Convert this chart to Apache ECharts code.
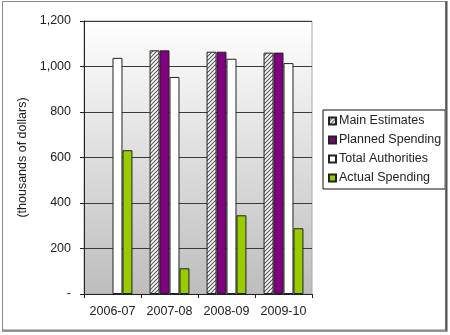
<!DOCTYPE html>
<html>
<head>
<meta charset="utf-8">
<script src="https://cdn.jsdelivr.net/npm/echarts@6/dist/echarts.min.js"></script>
<style>
html,body{margin:0;padding:0;background:#fff;}
#chart{width:450px;height:335px;}
</style>
</head>
<body>
<div id="chart"></div>
<script>
var categories = ['2006-07', '2007-08', '2008-09', '2009-10'];
var mainEstimates = [null, 1071, 1065, 1061];
var plannedSpending = [null, 1071, 1065, 1061];
var totalAuthorities = [1038, 954, 1034, 1015];
var actualSpending = [632, 113, 346, 289];
var yTicks = [0, 200, 400, 600, 800, 1000, 1200];

function hatch() {
  var c = document.createElement('canvas');
  c.width = 4; c.height = 4;
  var g = c.getContext('2d');
  g.fillStyle = '#ffffff';
  g.fillRect(0, 0, 4, 4);
  g.strokeStyle = '#555555';
  g.lineWidth = 1.1;
  g.beginPath();
  g.moveTo(-1, 5); g.lineTo(5, -1);
  g.moveTo(-1, 1); g.lineTo(1, -1);
  g.moveTo(3, 5); g.lineTo(5, 3);
  g.stroke();
  return c;
}
var hatchFill = { image: hatch(), repeat: 'repeat' };

var font = 'Arial, "Liberation Sans", sans-serif';
var fs = 12.5;
var chart = echarts.init(document.getElementById('chart'));
var border = { borderColor: '#222', borderWidth: 1 };

chart.setOption({
  animation: false,
  textStyle: { fontFamily: font },
  graphic: [
    { type: 'rect', shape: { x: 2.5, y: 1.5, width: 443, height: 328.5 }, style: { fill: 'none', stroke: '#8a8a8a', lineWidth: 1 }, z: 100 },
    { type: 'line', shape: { x1: 446.5, y1: 1, x2: 446.5, y2: 331.5 }, style: { stroke: '#555', lineWidth: 2 }, z: 100 },
    { type: 'line', shape: { x1: 2, y1: 331, x2: 447, y2: 331 }, style: { stroke: '#777', lineWidth: 1.5 }, z: 100 }
  ],
  grid: {
    left: 84, right: 138, top: 21, bottom: 41,
    show: true,
    borderColor: '#a8a8a8', borderWidth: 1,
    backgroundColor: {
      type: 'linear', x: 0, y: 0, x2: 0, y2: 1,
      colorStops: [{ offset: 0, color: '#ffffff' }, { offset: 1, color: '#bdbdbd' }]
    }
  },
  legend: {
    orient: 'vertical',
    left: 323, top: 110,
    width: 119,
    padding: [4, 4, 4, 5],
    backgroundColor: '#fff',
    borderColor: '#111', borderWidth: 1,
    itemWidth: 7, itemHeight: 7, itemGap: 5,
    icon: 'rect',
    textStyle: { fontSize: fs, color: '#222', fontFamily: font, lineHeight: 14, padding: [0, 0, 0, -2] },
    data: ['Main Estimates', 'Planned Spending', 'Total Authorities', 'Actual Spending']
  },
  xAxis: {
    type: 'category',
    data: categories,
    axisLine: { lineStyle: { color: '#222', width: 1 } },
    axisTick: { show: true, interval: 0, length: 4, lineStyle: { color: '#222' } },
    axisLabel: { interval: 0, fontSize: fs, color: '#222', margin: 11, fontFamily: font },
    splitLine: { show: false }
  },
  yAxis: {
    type: 'value',
    min: yTicks[0], max: yTicks[yTicks.length - 1], interval: 200,
    name: '(thousands of dollars)',
    nameLocation: 'middle', nameGap: 55,
    nameTextStyle: { fontSize: fs, color: '#222', fontFamily: font },
    axisLine: { show: true, lineStyle: { color: '#222', width: 1 } },
    axisTick: { show: true, length: 4, lineStyle: { color: '#222' } },
    axisLabel: {
      fontSize: fs, color: '#222', margin: 13, fontFamily: font,
      formatter: function (v) { return v === 0 ? '-' : v.toLocaleString('en-US'); }
    },
    splitLine: { show: true, lineStyle: { color: '#3a3a3a', width: 1 } }
  },
  series: [
    { name: 'Main Estimates', type: 'bar', data: mainEstimates, barGap: '0%', barCategoryGap: '30%',
      itemStyle: Object.assign({ color: hatchFill }, border) },
    { name: 'Planned Spending', type: 'bar', data: plannedSpending,
      itemStyle: Object.assign({ color: '#800080' }, border) },
    { name: 'Total Authorities', type: 'bar', data: totalAuthorities,
      itemStyle: Object.assign({ color: '#ffffff' }, border) },
    { name: 'Actual Spending', type: 'bar', data: actualSpending,
      itemStyle: Object.assign({ color: '#99cc00' }, border) }
  ]
});
</script>
</body>
</html>
